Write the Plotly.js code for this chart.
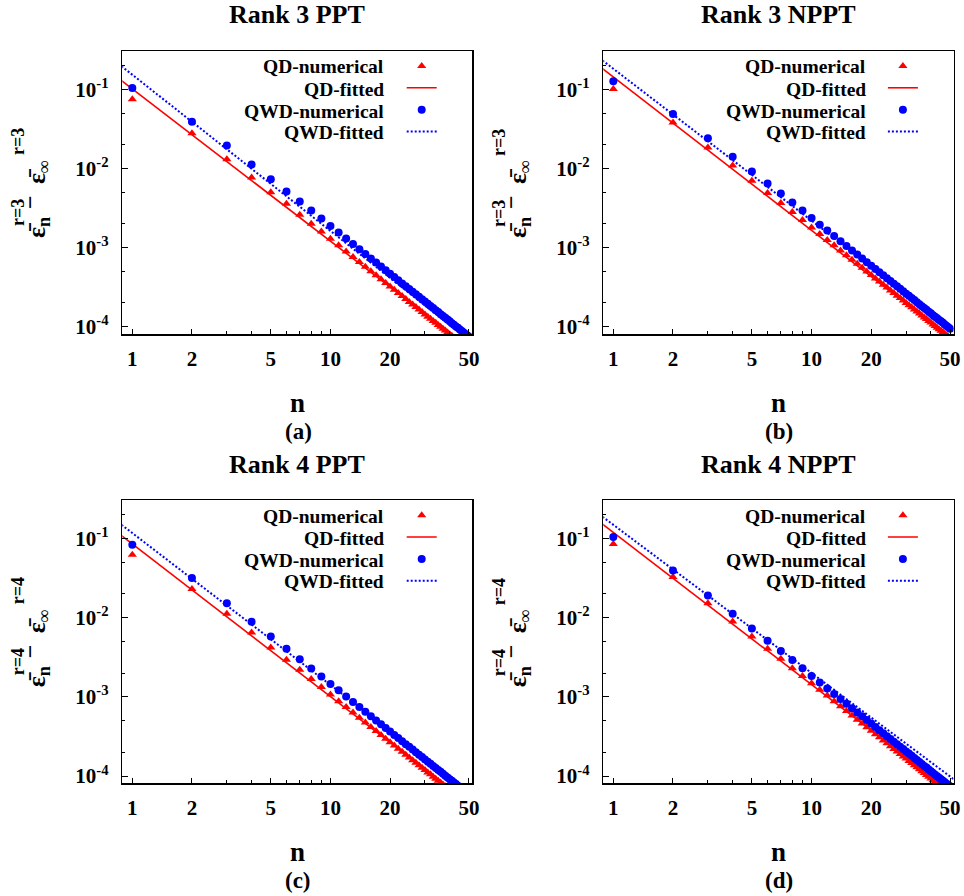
<!DOCTYPE html>
<html>
<head>
<meta charset="utf-8">
<script src="https://cdn.plot.ly/plotly-3.0.1.min.js"></script>
<style>html,body{margin:0;padding:0;background:#fff;}#chart{width:964px;height:896px;}</style>
</head>
<body>
<div id="chart"></div>
<script>
// ---------- data ----------
const n = [1,2,3,4,5,6,7,8,9,10,11,12,13,14,15,16,17,18,19,20,21,22,23,24,25,26,27,28,29,30,31,32,33,34,35,36,37,38,39,40,41,42,43,44,45,46,47,48,49,50];

// (a) Rank 3 PPT
const qdNumA = [0.0748,0.0279,0.0131,0.00767,0.0050,0.00358,0.0026,0.0020,0.0016,0.00129,
  1.07e-3,8.96e-4,7.63e-4,6.58e-4,5.73e-4,5.04e-4,4.46e-4,3.98e-4,3.57e-4,3.23e-4,
  2.93e-4,2.67e-4,2.44e-4,2.24e-4,2.06e-4,1.91e-4,1.77e-4,1.65e-4,1.53e-4,1.43e-4,
  1.34e-4,1.26e-4,1.18e-4,1.12e-4,1.05e-4,9.96e-5,9.42e-5,8.94e-5,8.48e-5,8.06e-5,
  7.68e-5,7.31e-5,6.98e-5,6.67e-5,6.37e-5,6.10e-5,5.84e-5,5.60e-5,5.37e-5,5.16e-5];
const qwdNumA = [0.104,0.039,0.0195,0.0112,0.00733,0.00513,0.00383,0.00295,0.00234,0.00187,
  1.55e-3,1.30e-3,1.11e-3,9.54e-4,8.31e-4,7.30e-4,6.47e-4,5.77e-4,5.18e-4,4.68e-4,
  4.24e-4,3.86e-4,3.53e-4,3.25e-4,2.99e-4,2.77e-4,2.57e-4,2.39e-4,2.22e-4,2.08e-4,
  1.95e-4,1.83e-4,1.72e-4,1.62e-4,1.53e-4,1.44e-4,1.37e-4,1.30e-4,1.23e-4,1.17e-4,
  1.11e-4,1.06e-4,1.01e-4,9.67e-5,9.24e-5,8.84e-5,8.47e-5,8.12e-5,7.78e-5,7.48e-5];
// (b) Rank 3 NPPT
const qdNumB = [0.101,0.038,0.0184,0.0109,0.00698,0.00489,0.00366,0.00281,0.00223,0.0018,
  1.49e-3,1.25e-3,1.07e-3,9.18e-4,8.00e-4,7.03e-4,6.23e-4,5.56e-4,4.99e-4,4.50e-4,
  4.08e-4,3.72e-4,3.40e-4,3.13e-4,2.88e-4,2.66e-4,2.47e-4,2.30e-4,2.14e-4,2.00e-4,
  1.87e-4,1.76e-4,1.65e-4,1.56e-4,1.47e-4,1.39e-4,1.31e-4,1.25e-4,1.18e-4,1.13e-4,
  1.07e-4,1.02e-4,9.74e-5,9.30e-5,8.89e-5,8.51e-5,8.15e-5,7.81e-5,7.49e-5,7.20e-5];
const qwdNumB = [0.127,0.0489,0.0241,0.0141,0.00914,0.00645,0.00483,0.00372,0.00295,0.00236,
  1.95e-3,1.64e-3,1.40e-3,1.20e-3,1.05e-3,9.22e-4,8.17e-4,7.28e-4,6.54e-4,5.90e-4,
  5.35e-4,4.88e-4,4.46e-4,4.10e-4,3.78e-4,3.49e-4,3.24e-4,3.01e-4,2.81e-4,2.62e-4,
  2.46e-4,2.31e-4,2.17e-4,2.04e-4,1.93e-4,1.82e-4,1.72e-4,1.64e-4,1.55e-4,1.48e-4,
  1.40e-4,1.34e-4,1.28e-4,1.22e-4,1.17e-4,1.12e-4,1.07e-4,1.02e-4,9.82e-5,9.44e-5];
// (c) Rank 4 PPT
const qdNumC = [0.0626,0.0231,0.01125,0.00652,0.0042,0.00294,0.0022,0.00169,0.00133,0.00107,
  8.84e-4,7.43e-4,6.33e-4,5.46e-4,4.76e-4,4.18e-4,3.70e-4,3.30e-4,2.96e-4,2.68e-4,
  2.43e-4,2.21e-4,2.02e-4,1.86e-4,1.71e-4,1.58e-4,1.47e-4,1.37e-4,1.27e-4,1.19e-4,
  1.11e-4,1.05e-4,9.82e-5,9.26e-5,8.73e-5,8.26e-5,7.81e-5,7.42e-5,7.03e-5,6.69e-5,
  6.37e-5,6.07e-5,5.79e-5,5.53e-5,5.29e-5,5.06e-5,4.85e-5,4.64e-5,4.45e-5,4.28e-5];
const qwdNumC = [0.084,0.0318,0.0153,0.0089,0.0058,0.00405,0.0030,0.00228,0.00181,0.00146,
  1.21e-3,1.01e-3,8.64e-4,7.45e-4,6.49e-4,5.70e-4,5.05e-4,4.51e-4,4.04e-4,3.65e-4,
  3.31e-4,3.02e-4,2.76e-4,2.53e-4,2.34e-4,2.16e-4,2.00e-4,1.86e-4,1.74e-4,1.62e-4,
  1.52e-4,1.43e-4,1.34e-4,1.26e-4,1.19e-4,1.13e-4,1.07e-4,1.01e-4,9.59e-5,9.13e-5,
  8.69e-5,8.28e-5,7.90e-5,7.55e-5,7.21e-5,6.91e-5,6.61e-5,6.34e-5,6.08e-5,5.84e-5];
// (d) Rank 4 NPPT
const qdNumD = [0.0857,0.0327,0.0153,0.00897,0.0058,0.00405,0.00303,0.00231,0.00184,0.00149,
  1.23e-3,1.04e-3,8.82e-4,7.60e-4,6.62e-4,5.82e-4,5.16e-4,4.60e-4,4.13e-4,3.73e-4,
  3.38e-4,3.08e-4,2.82e-4,2.59e-4,2.38e-4,2.20e-4,2.04e-4,1.90e-4,1.77e-4,1.66e-4,
  1.55e-4,1.46e-4,1.37e-4,1.29e-4,1.22e-4,1.15e-4,1.09e-4,1.03e-4,9.79e-5,9.31e-5,
  8.87e-5,8.45e-5,8.06e-5,7.70e-5,7.36e-5,7.05e-5,6.75e-5,6.47e-5,6.20e-5,5.96e-5];
const qwdNumD = [0.105,0.0397,0.0191,0.01125,0.00733,0.00512,0.00379,0.00292,0.00231,0.00184,
  1.52e-3,1.28e-3,1.09e-3,9.39e-4,8.18e-4,7.19e-4,6.37e-4,5.68e-4,5.10e-4,4.60e-4,
  4.17e-4,3.80e-4,3.48e-4,3.19e-4,2.94e-4,2.72e-4,2.52e-4,2.35e-4,2.19e-4,2.04e-4,
  1.92e-4,1.80e-4,1.69e-4,1.59e-4,1.50e-4,1.42e-4,1.34e-4,1.28e-4,1.21e-4,1.15e-4,
  1.09e-4,1.04e-4,9.95e-5,9.51e-5,9.09e-5,8.70e-5,8.34e-5,7.99e-5,7.66e-5,7.36e-5];

// fitted power-law lines (read at the two ends of the drawn line)
const fitN = [0.85, 55];
const qdFitA = [0.139, 4.53e-5],  qwdFitA = [0.211, 5.62e-5];
const qdFitB = [0.197, 6.05e-5],  qwdFitB = [0.249, 8.3e-5];
const qdFitC = [0.117, 3.78e-5],  qwdFitC = [0.161, 5.36e-5];
const qdFitD = [0.164, 5.37e-5],  qwdFitD = [0.203, 8.24e-5];

const seriesNames = ['QD-numerical','QD-fitted','QWD-numerical','QWD-fitted'];
const panelTitles = ['Rank 3 PPT','Rank 3 NPPT','Rank 4 PPT','Rank 4 NPPT'];
const panelLabels = ['(a)','(b)','(c)','(d)'];
const rankOf = [3,3,4,4];
const xTickVals = [1,2,5,10,20,50];
const xTickText = ['1','2','5','10','20','50'];
const xMinor = [3,4,6,7,8,9,30,40];
const yTickVals = [1e-1,1e-2,1e-3,1e-4];
const yTickText = ['10<sup>-1</sup>','10<sup>-2</sup>','10<sup>-3</sup>','10<sup>-4</sup>'];
const yMinor = [0.2,0.05,0.02,0.005,0.002,5e-4,2e-4];

// ---------- layout geometry (pixels) ----------
const W = 964, H = 896;
const RED = '#ff0000', BLUE = '#0000ff';
const FONT = 'Liberation Serif';
const panels = [
  {qd: qdNumA, qwd: qwdNumA, qdf: qdFitA, qwdf: qwdFitA, x0:122.3, x1:472.3, y0:51,    y1:334},
  {qd: qdNumB, qwd: qwdNumB, qdf: qdFitB, qwdf: qwdFitB, x0:603.3, x1:953.5, y0:51,    y1:334},
  {qd: qdNumC, qwd: qwdNumC, qdf: qdFitC, qwdf: qwdFitC, x0:122.3, x1:472.3, y0:500.3, y1:783.3},
  {qd: qdNumD, qwd: qwdNumD, qdf: qdFitD, qwdf: qwdFitD, x0:603.3, x1:953.5, y0:500.3, y1:783.3}
];
const px = v => v / W;
const py = v => 1 - v / H;

const traces = [];
const layout = {
  width: W, height: H,
  margin: {l:0, r:0, t:0, b:0},
  paper_bgcolor: '#fff', plot_bgcolor: '#fff',
  font: {family: FONT, size: 20, color: '#000', weight: 'bold'},
  showlegend: true,
  annotations: []
};

function ann(x, y, text, size, extra) {
  return Object.assign({xref:'paper', yref:'paper', x: px(x), y: py(y), xanchor:'center', yanchor:'middle',
    text: text, showarrow:false, font:{family: FONT, size: size, weight: 'bold', color: '#000'}}, extra || {});
}

panels.forEach((p, i) => {
  const k = i === 0 ? '' : String(i + 1);
  const xa = 'x' + k, ya = 'y' + k;
  const lg = 'legend' + k;
  layout['xaxis' + k] = {
    type: 'log', range: [-0.0505, 1.716], domain: [px(p.x0), px(p.x1)], anchor: ya,
    tickmode: 'array', tickvals: xTickVals, ticktext: xTickText,
    ticks: 'inside', ticklen: 5, tickwidth: 1, tickcolor: '#000',
    showline: true, linecolor: '#000', linewidth: 1.5, mirror: true,
    showgrid: false, zeroline: false, ticklabelstandoff: 5,
    tickfont: {family: FONT, size: 21, weight: 'bold', color: '#000'},
    minor: {tickmode: 'array', tickvals: xMinor, ticks: 'inside', ticklen: 3, tickwidth: 1, tickcolor: '#000', showgrid: false},
    fixedrange: true
  };
  layout['yaxis' + k] = {
    type: 'log', range: [-4.092, -0.515], domain: [py(p.y1), py(p.y0)], anchor: xa,
    tickmode: 'array', tickvals: yTickVals, ticktext: yTickText,
    ticks: 'inside', ticklen: 6, tickwidth: 1, tickcolor: '#000',
    showline: true, linecolor: '#000', linewidth: 1.5, mirror: true,
    showgrid: false, zeroline: false, ticklabelstandoff: 8,
    tickfont: {family: FONT, size: 21, weight: 'bold', color: '#000'},
    minor: {tickmode: 'array', tickvals: yMinor, ticks: 'inside', ticklen: 3, tickwidth: 1, tickcolor: '#000', showgrid: false},
    fixedrange: true
  };
  // legend: symbols only (text drawn as right-aligned labels to their left, as in the original)
  layout[lg] = {
    x: px(p.x1 - 70.6), y: py(p.y0 - 1), xanchor: 'left', yanchor: 'top',
    bgcolor: 'rgba(0,0,0,0)', borderwidth: 0,
    font: {family: FONT, size: 14.5, color: '#000'},
    tracegroupgap: 0, itemwidth: 30
  };
  traces.push({
    x: n, y: p.qd, xaxis: xa, yaxis: ya, type: 'scatter', mode: 'markers', name: ' ',
    legend: lg, marker: {symbol: 'triangle-up', size: 8, color: RED}, hoverinfo: 'x+y'
  });
  traces.push({
    x: fitN, y: p.qdf, xaxis: xa, yaxis: ya, type: 'scatter', mode: 'lines', name: ' ',
    legend: lg, line: {color: RED, width: 1.6}, hoverinfo: 'skip'
  });
  traces.push({
    x: n, y: p.qwd, xaxis: xa, yaxis: ya, type: 'scatter', mode: 'markers', name: ' ',
    legend: lg, marker: {symbol: 'circle', size: 8, color: BLUE}, hoverinfo: 'x+y'
  });
  traces.push({
    x: fitN, y: p.qwdf, xaxis: xa, yaxis: ya, type: 'scatter', mode: 'lines', name: ' ',
    legend: lg, line: {color: BLUE, width: 2, dash: '2px,2px'}, hoverinfo: 'skip'
  });

  const cx = (p.x0 + p.x1) / 2;
  const r = rankOf[i];
  layout.annotations.push(ann(cx, p.y0 - 36, panelTitles[i], 26));      // panel title
  layout.annotations.push(ann(cx, p.y1 + 69, 'n', 27));                 // x-axis title
  layout.annotations.push(ann(cx + 1, p.y1 + 97, panelLabels[i], 23));  // panel label
  // y-axis title: ε̄_n^{r} − ε̄_∞^{r}, superscripts stacked over subscripts as in the original
  const lx = p.x0 - 122.3, ly = p.y0 - 51;
  const rot = {textangle: -90};
  layout.annotations.push(ann(lx + 38, ly + 228, 'ε\u0304<sub>n</sub>', 26, rot));
  layout.annotations.push(ann(lx + 18, ly + 213, 'r=' + r, 18, rot));
  layout.annotations.push(ann(lx + 30, ly + 202, '−', 24, rot));
  layout.annotations.push(ann(lx + 38, ly + 172, 'ε\u0304<sub>∞</sub>', 26, rot));
  layout.annotations.push(ann(lx + 18, ly + 142, 'r=' + r, 18, rot));
  // legend labels
  const rows = [16, 38.5, 60, 81.5];
  seriesNames.forEach((s, j) => {
    layout.annotations.push(ann(p.x1 - 86, p.y0 + rows[j], s, 19.5, {xanchor: 'right'}));
  });
});

Plotly.newPlot('chart', traces, layout, {displayModeBar: false, staticPlot: true});
</script>
</body>
</html>
